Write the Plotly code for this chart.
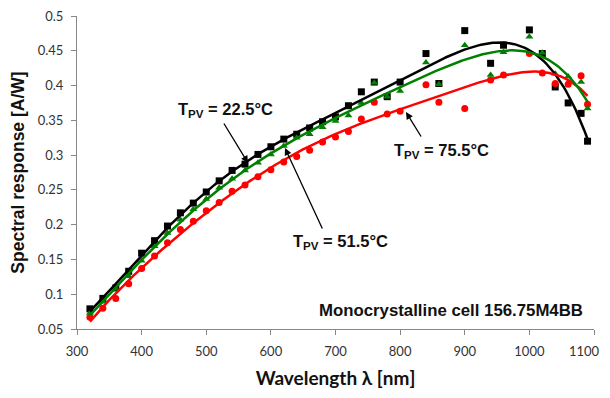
import numpy as np
import plotly.graph_objects as go

wavelength = [320, 340, 360, 380, 400, 420, 440, 460, 480, 500, 520, 540, 560, 580, 600,
              620, 640, 660, 680, 700, 720, 740, 760, 780, 800, 840, 860, 900, 940, 960,
              1000, 1020, 1040, 1060, 1080, 1090]

sr_22_5 = [0.079, 0.094, 0.109, 0.133, 0.159, 0.177, 0.198, 0.217, 0.231, 0.247, 0.263, 0.278,
           0.287, 0.301, 0.312, 0.323, 0.330, 0.339, 0.348, 0.355, 0.371, 0.391, 0.405, 0.384,
           0.405, 0.446, 0.403, 0.479, 0.432, 0.458, 0.480, 0.446, 0.398, 0.375, 0.360, 0.320]

sr_51_5 = [0.073, 0.089, 0.108, 0.126, 0.148, 0.169, 0.188, 0.207, 0.222, 0.237, 0.253, 0.266,
           0.278, 0.289, 0.301, 0.313, 0.325, 0.330, 0.340, 0.349, 0.357, 0.375, 0.404, 0.384,
           0.392, 0.433, 0.402, 0.458, 0.415, 0.448, 0.470, 0.447, 0.417, 0.413, 0.405, 0.367]

sr_75_5 = [0.067, 0.080, 0.094, 0.115, 0.137, 0.155, 0.174, 0.193, 0.205, 0.220, 0.232, 0.248,
           0.257, 0.269, 0.279, 0.290, 0.298, 0.307, 0.319, 0.326, 0.334, 0.352, 0.376, 0.359,
           0.363, 0.401, 0.376, 0.367, 0.408, 0.415, 0.446, 0.418, 0.403, 0.402, 0.414, 0.373]

x_ticks = [300, 400, 500, 600, 700, 800, 900, 1000, 1100]
x_tick_text = ["300", "400", "500", "600", "700", "800", "900", "1000", "1100"]
y_ticks = [0.05, 0.1, 0.15, 0.2, 0.25, 0.3, 0.35, 0.4, 0.45, 0.5]
y_tick_text = ["0.05", "0.1", "0.15", "0.2", "0.25", "0.3", "0.35", "0.4", "0.45", "0.5"]

series = [
    ("22.5", sr_22_5, "#000000", "square", 7),
    ("75.5", sr_75_5, "#ff0000", "circle", 7),
    ("51.5", sr_51_5, "#008000", "triangle-up", 7),
]

fig = go.Figure()
wl = np.array(wavelength, dtype=float)
xs = np.linspace(min(wavelength), max(wavelength), 300)
for name, vals, col, sym, sz in series:
    fig.add_trace(go.Scatter(x=wavelength, y=vals, mode="markers",
                             marker=dict(color=col, symbol=sym, size=sz, line=dict(width=0)),
                             showlegend=False, cliponaxis=False))
for name, vals, col, sym, sz in series:
    u = (wl - 700.0) / 400.0
    coef = np.polyfit(u, np.array(vals), 6)
    ys = np.polyval(coef, (xs - 700.0) / 400.0)
    fig.add_trace(go.Scatter(x=xs, y=ys, mode="lines", line=dict(color=col, width=2.5),
                             showlegend=False, hoverinfo="skip"))

# page body has an 8px margin
OFF = 8
W, H = 610 - OFF, 398 - 2 * OFF
# plot area in screenshot pixels: x 77..594, y 16..329
L = 77 - OFF
T = 16 - OFF
R = W - (594 - OFF)
B = H - (329 - OFF)
pw, ph = W - L - R, H - T - B

def to_data(px, py):
    px, py = px - OFF, py - OFF
    return 300 + (px - L) * 800 / pw, 0.05 + (T + ph - py) * 0.45 / ph

def paper(px, py):
    px, py = px - OFF, py - OFF
    return (px - L) / pw, 1 - (py - T) / ph

for head, tail in [((248, 163), (223, 122)), ((285, 148), (323, 230)), ((406, 112), (422, 138))]:
    hx, hy = to_data(*head)
    tx, ty = to_data(*tail)
    fig.add_annotation(x=hx, y=hy, ax=tx, ay=ty, xref="x", yref="y", axref="x", ayref="y",
                       text="", showarrow=True, arrowhead=2, arrowsize=1.1, arrowwidth=1.3,
                       arrowcolor="#000")

ann_font = dict(family="Liberation Sans, Arial", size=16.5, color="#111111")
for txt, (px, py) in [("<b>T<sub>PV</sub> = 22.5°C</b>", (225, 110)),
                      ("<b>T<sub>PV</sub> = 75.5°C</b>", (441, 151)),
                      ("<b>T<sub>PV</sub> = 51.5°C</b>", (340, 242))]:
    a, b = paper(px, py)
    fig.add_annotation(x=a, y=b, xref="paper", yref="paper", text=txt, showarrow=False,
                       font=ann_font, xanchor="center", yanchor="middle")

a, b = paper(585, 310)
fig.add_annotation(x=a, y=b, xref="paper", yref="paper", text="<b>Monocrystalline cell 156.75M4BB</b>",
                   showarrow=False, xanchor="right", yanchor="middle",
                   font=dict(family="Liberation Sans, Arial", size=16.8, color="#111111"))

tick_font = dict(family="Lato", size=13, color="#333333")

# last x tick label drawn as an annotation so it stays inside the visible page
shown_text = x_tick_text[:-1] + [""]
a, b = paper(602, 351)
fig.add_annotation(x=a, y=b, xref="paper", yref="paper", text=x_tick_text[-1], showarrow=False,
                   xanchor="right", yanchor="middle", font=tick_font)

fig.update_layout(
    width=W, height=H, margin=dict(l=L, r=R, t=T, b=B),
    paper_bgcolor="white", plot_bgcolor="white",
    xaxis=dict(range=[300, 1100], tickvals=x_ticks, ticktext=shown_text, ticks="outside", ticklen=5,
               tickcolor="#888",
               showline=True, linecolor="#888", linewidth=1, showgrid=False, zeroline=False,
               tickfont=tick_font, automargin=False, ticklabelstandoff=5, ticklabeloverflow="allow",
               title=dict(text="<b>Wavelength λ [nm]</b>", font=dict(family="Lato", size=19, color="#111"),
                          standoff=14)),
    yaxis=dict(range=[0.05, 0.5], tickvals=y_ticks, ticktext=y_tick_text, ticks="outside", ticklen=5,
               tickcolor="#888", showline=True, linecolor="#888", linewidth=1, showgrid=False,
               zeroline=False, tickfont=tick_font, automargin=False, ticklabelstandoff=5,
               ticklabeloverflow="allow",
               title=dict(text="<b>Spectral response [A/W]</b>",
                          font=dict(family="Liberation Sans, Arial", size=17.5, color="#111"), standoff=10)),
)
fig.write_html("out.html")
